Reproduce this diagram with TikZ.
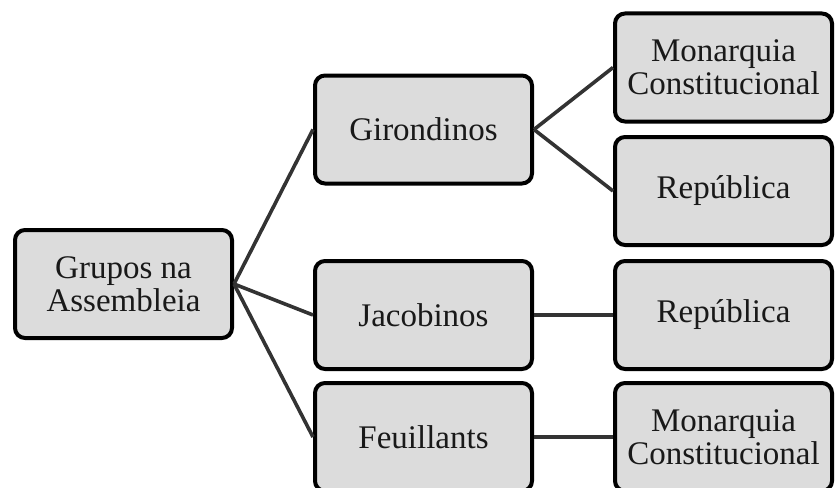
\documentclass[tikz,border=0pt]{standalone}
\usepackage{fontspec}
\setmainfont{Liberation Serif}
\definecolor{boxfill}{HTML}{DCDCDC}
\definecolor{linkcol}{HTML}{333333}
\begin{document}
\begin{tikzpicture}[x=1pt,y=-1pt,
  gbox/.style={draw=black, line width=4pt, fill=boxfill, rounded corners=10pt,
    minimum width=217pt, minimum height=108pt, align=center, inner sep=0pt,
    font=\fontsize{33}{33}\selectfont, text=black!90},
  link/.style={draw=linkcol, line width=3.6pt}]
\useasboundingbox (0,0) rectangle (840,487);
\begin{scope}
\clip (0,0) rectangle (840,487);
\node[gbox] (root) at (123.5,284) {Grupos na\\Assembleia};
\node[gbox] (gir) at (423.5,129.5) {Girondinos};
\node[gbox] (jac) at (423.5,315) {Jacobinos};
\node[gbox] (feu) at (423.5,437) {Feuillants};
\node[gbox] (mon1) at (723.5,67.5) {Monarquia\\Constitucional};
\node[gbox] (rep1) at (723.5,191) {República};
\node[gbox] (rep2) at (723.5,315) {República};
\node[gbox] (mon2) at (723.5,437) {Monarquia\\Constitucional};
\draw[link] (root.east) -- (gir.west);
\draw[link] (root.east) -- (jac.west);
\draw[link] (root.east) -- (feu.west);
\draw[link] (gir.east) -- (mon1.west);
\draw[link] (gir.east) -- (rep1.west);
\draw[link] (jac.east) -- (rep2.west);
\draw[link] (feu.east) -- (mon2.west);
\end{scope}
\end{tikzpicture}
\end{document}
